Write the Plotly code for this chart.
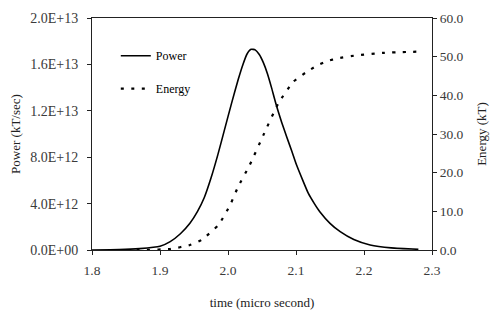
import plotly.graph_objects as go

# Power pulse (kT/sec) versus time (micro second)
time_power = [1.80, 1.84, 1.87, 1.90, 1.915, 1.93, 1.944, 1.955, 1.965, 1.975,
              1.985, 1.995, 2.005, 2.015, 2.022, 2.028, 2.034, 2.040, 2.046,
              2.052, 2.058, 2.064, 2.071, 2.079, 2.086, 2.094, 2.101, 2.110,
              2.118, 2.127, 2.135, 2.150, 2.165, 2.185, 2.209, 2.240, 2.280]
power = [0.0, 0.03e12, 0.12e12, 0.32e12, 0.72e12, 1.4e12, 2.3e12, 3.3e12,
         4.5e12, 6.2e12, 8.2e12, 10.4e12, 12.6e12, 14.7e12, 16.0e12, 16.9e12,
         17.3e12, 17.25e12, 16.85e12, 16.15e12, 15.2e12, 14.0e12, 12.5e12,
         11.0e12, 9.8e12, 8.5e12, 7.3e12, 6.0e12, 4.9e12, 4.0e12, 3.3e12,
         2.3e12, 1.58e12, 0.9e12, 0.43e12, 0.18e12, 0.06e12]

# Cumulative energy (kT)
time_energy = [1.85, 1.88, 1.915, 1.944, 1.961, 1.986, 2.003, 2.015, 2.032,
               2.052, 2.074, 2.096, 2.116, 2.13, 2.145, 2.162, 2.192, 2.23, 2.28]
energy = [0.0, 0.05, 0.26, 1.3, 2.6, 6.5, 11.6, 16.4, 22.0, 29.7, 37.9,
          43.5, 46.1, 47.6, 48.8, 49.6, 50.4, 51.0, 51.3]

x_ticks = [1.8, 1.9, 2.0, 2.1, 2.2, 2.3]
power_ticks = [0, 4e12, 8e12, 12e12, 16e12, 20e12]
power_tick_text = ["0.0E+00", "4.0E+12", "8.0E+12", "1.2E+13", "1.6E+13", "2.0E+13"]
energy_ticks = [0, 10, 20, 30, 40, 50, 60]

SERIF = "Liberation Serif, Times New Roman, serif"
TICK_COLOR = "#3a3a3a"

fig = go.Figure()
fig.add_trace(go.Scatter(
    x=time_power, y=power, name="Power", mode="lines",
    line=dict(color="black", width=1.6, shape="spline", smoothing=0.5),
    legendgroup="p", yaxis="y"))
fig.add_trace(go.Scatter(
    x=time_energy, y=energy, name="Energy", mode="lines",
    line=dict(color="black", width=2.2, dash="3px,7.5px", shape="spline", smoothing=0.5),
    legendgroup="e", yaxis="y2"))

fig.update_layout(
    width=500, height=333,
    margin=dict(l=92, r=68, t=18, b=83),
    paper_bgcolor="white", plot_bgcolor="white",
    font=dict(family=SERIF, size=13, color="black"),
    showlegend=True,
    legend=dict(x=0.07, y=0.90, xanchor="left", yanchor="top",
                bgcolor="rgba(0,0,0,0)", font=dict(family=SERIF, size=12, color="black"),
                tracegroupgap=14, itemwidth=30),
    xaxis=dict(range=[1.8, 2.3], tickvals=x_ticks, ticktext=[f"{v:.1f}" for v in x_ticks],
               showgrid=False, zeroline=False, showline=True, linecolor="#222", linewidth=1,
               mirror=True, ticks="outside", ticklen=4, tickcolor="#222",
               ticklabelstandoff=4,
               tickfont=dict(family=SERIF, size=13.5, color=TICK_COLOR),
               title=dict(text="time (micro second)", font=dict(family=SERIF, size=13, color="#222"),
                          standoff=20)),
    yaxis=dict(range=[0, 2e13], tickvals=power_ticks, ticktext=power_tick_text,
               showgrid=False, zeroline=False, showline=True, linecolor="#222", linewidth=1,
               ticks="outside", ticklen=4, tickcolor="#222",
               ticklabelstandoff=6,
               tickfont=dict(family=SERIF, size=14, color=TICK_COLOR),
               title=dict(text="Power (kT/sec)", font=dict(family=SERIF, size=13, color="#222"),
                          standoff=6)),
    yaxis2=dict(range=[0, 60], tickvals=energy_ticks,
                ticktext=[f"{v:.1f}" for v in energy_ticks],
                overlaying="y", side="right",
                showgrid=False, zeroline=False, showline=True, linecolor="#222", linewidth=1,
                ticks="outside", ticklen=4, tickcolor="#222",
                tickfont=dict(family=SERIF, size=13.5, color=TICK_COLOR),
                title=dict(text="Energy (kT)", font=dict(family=SERIF, size=13, color="#222"),
                           standoff=14)),
)

fig.write_html("out.html")
